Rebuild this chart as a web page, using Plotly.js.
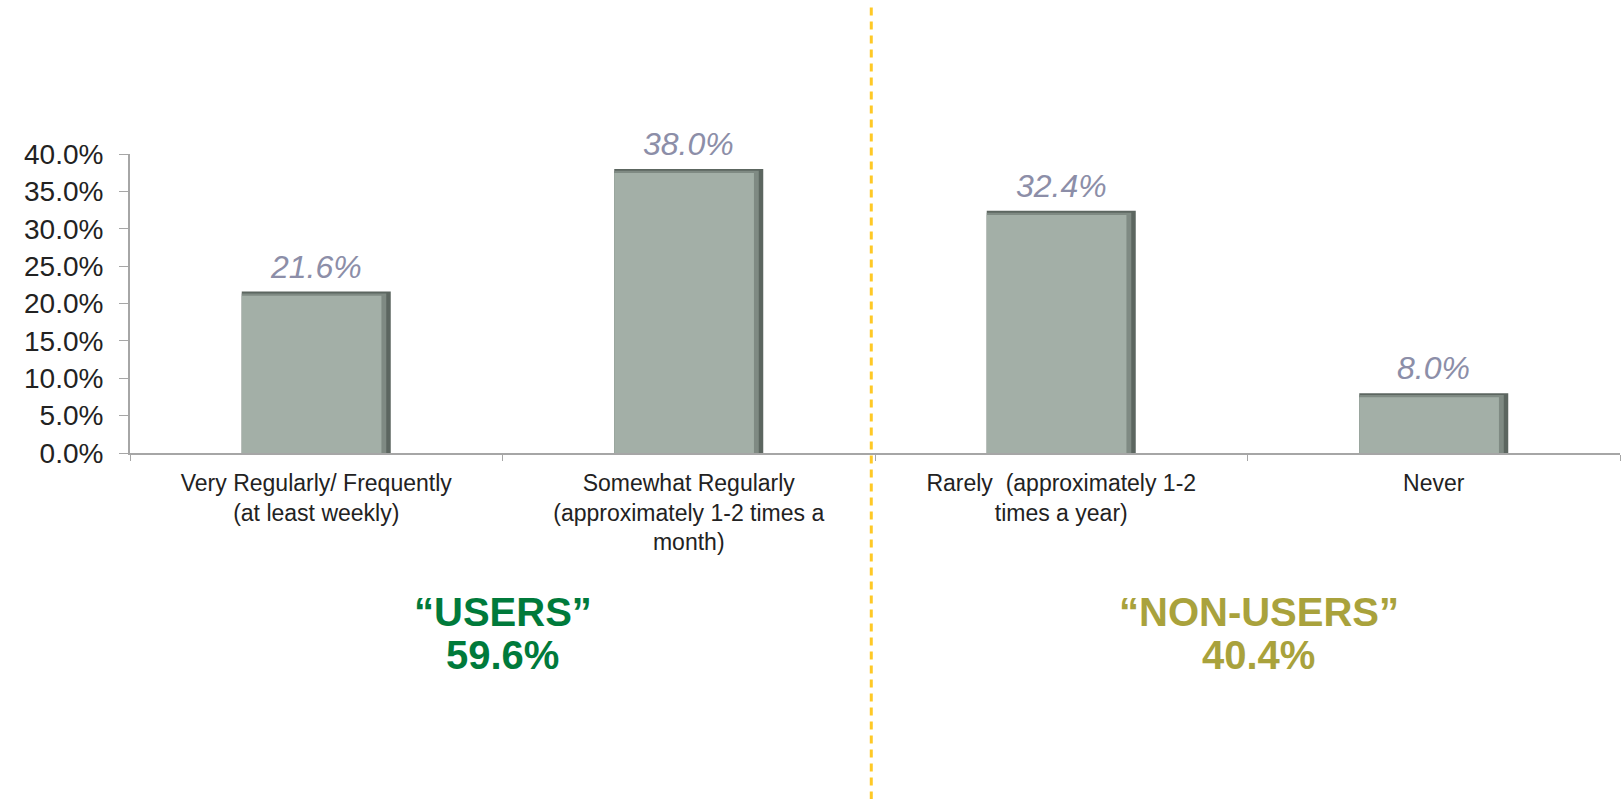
<!DOCTYPE html>
<html>
<head>
<meta charset="utf-8">
<script src="https://cdn.plot.ly/plotly-3.0.1.min.js"></script>
<style>
  html, body { margin: 0; padding: 0; background: #fff; }
  #chart { width: 1621px; height: 799px; }
</style>
</head>
<body>
<div id="chart"></div>
<script>
// categories and values
var categories = [
  'Very Regularly/ Frequently<br>(at least weekly)',
  'Somewhat Regularly<br>(approximately 1-2 times a<br>month)',
  'Rarely  (approximately 1-2<br>times a year)',
  'Never'
];
var shares = [21.6, 38.0, 32.4, 8.0];
var yTicks = [0, 5, 10, 15, 20, 25, 30, 35, 40];

// group totals under the chart
var groupNames = ['\u201cUSERS\u201d', '\u201cNON-USERS\u201d'];
var groupTotals = ['59.6%', '40.4%'];
var groupColors = ['#007A3B', '#A9A23C'];
var groupPos = [0.5, 2.53];

var font = 'Arial, "Liberation Sans", sans-serif';

// bars: dark shadow behind, mid tone, light face on top
var shadow = {
  type: 'bar', x: categories, y: shares,
  width: 0.4, offset: -0.2,
  marker: { color: '#5C6660' }, hoverinfo: 'skip'
};
var mid = {
  type: 'bar', x: categories, y: shares.map(function (v) { return v - 0.25; }),
  width: 0.388, offset: -0.2,
  marker: { color: '#7F8A83' }, hoverinfo: 'skip'
};
var face = {
  type: 'bar', x: categories, y: shares.map(function (v) { return v - 0.55; }),
  width: 0.375, offset: -0.2,
  marker: { color: '#A3AFA7' }, hoverinfo: 'skip'
};

var annotations = shares.map(function (v, i) {
  return {
    x: i, y: v, xref: 'x', yref: 'y',
    text: v.toFixed(1) + '%', showarrow: false,
    yanchor: 'bottom', yshift: 5,
    font: { family: font, size: 32, color: '#8C8EA8', style: 'italic' }
  };
});
groupNames.forEach(function (name, i) {
  annotations.push({
    x: groupPos[i], y: -0.533, xref: 'x', yref: 'paper',
    yanchor: 'middle',
    text: '<b>' + name + '</b>', showarrow: false,
    font: { family: font, size: 40, color: groupColors[i] }
  });
  annotations.push({
    x: groupPos[i], y: -0.676, xref: 'x', yref: 'paper',
    yanchor: 'middle',
    text: '<b>' + groupTotals[i] + '</b>', showarrow: false,
    font: { family: font, size: 40, color: groupColors[i] }
  });
});

var layout = {
  width: 1621, height: 799,
  margin: { l: 130, r: 1, t: 154, b: 346 },
  paper_bgcolor: '#fff', plot_bgcolor: '#fff',
  barmode: 'overlay',
  showlegend: false,
  hovermode: false,
  xaxis: {
    type: 'category',
    range: [-0.5, 3.5],
    showline: true, linecolor: '#A6A6A6', linewidth: 2,
    ticks: 'outside', tickson: 'boundaries', ticklen: 6, tickcolor: '#A6A6A6',
    ticklabelstandoff: 8,
    showgrid: false, zeroline: false,
    tickfont: { family: font, size: 23, color: '#222' }
  },
  yaxis: {
    range: [0, 40],
    tickvals: yTicks,
    ticktext: yTicks.map(function (t) { return t.toFixed(1) + '%'; }),
    showline: true, linecolor: '#A6A6A6', linewidth: 2,
    ticks: 'outside', ticklen: 9, tickcolor: '#A6A6A6',
    ticklabelstandoff: 10,
    showgrid: false, zeroline: false,
    tickfont: { family: font, size: 28, color: '#222' }
  },
  shapes: [{
    type: 'line', xref: 'x', yref: 'paper',
    x0: 1.49, x1: 1.49, y0: 1.49, y1: -1.16,
    line: { color: '#FFC926', width: 3, dash: '8px,6px' }
  }],
  annotations: annotations
};

Plotly.newPlot('chart', [shadow, mid, face], layout, { displayModeBar: false, staticPlot: true });
</script>
</body>
</html>
